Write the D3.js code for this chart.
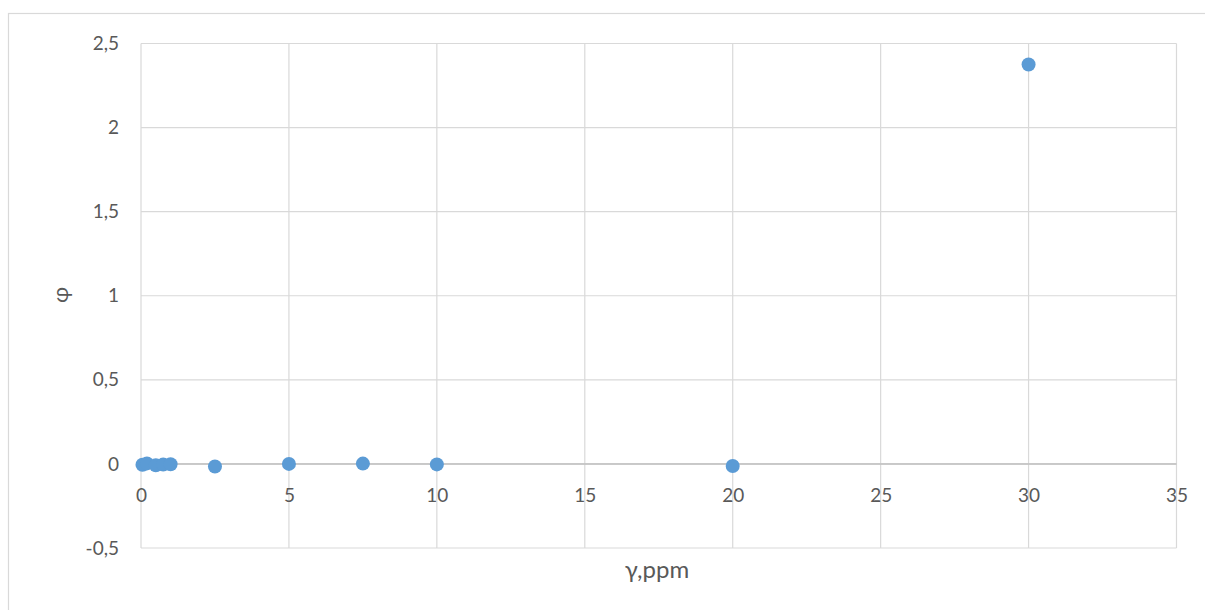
<!DOCTYPE html>
<html><head><meta charset="utf-8">
<script src="https://cdn.jsdelivr.net/npm/d3@7"></script>
<style>
html,body{margin:0;padding:0;background:#fff;}
svg{display:block;}
text{font-family:Lato,"Open Sans",sans-serif;fill:#595959;}
</style></head>
<body>
<svg id="c" width="1205" height="610"></svg>
<script>
const xValues = [0.05, 0.2, 0.5, 0.75, 1, 2.5, 5, 7.5, 10, 20, 30];
const yValues = [-0.005, 0.003, -0.008, -0.004, -0.002, -0.015, 0.0, 0.002, -0.003, -0.012, 2.375];
const xTicks = [0, 5, 10, 15, 20, 25, 30, 35];
const yTicks = [-0.5, 0, 0.5, 1, 1.5, 2, 2.5];
const xTitle = "γ,ppm";
const yTitle = "φ";

const svg = d3.select("#c");
const m = {l:141, r:1176.5, t:43.5, b:548};
const x = d3.scaleLinear().domain([0,35]).range([m.l, m.r]);
const y = d3.scaleLinear().domain([-0.5,2.5]).range([m.b, m.t]);
const fmt = v => String(v).replace(".", ",");
const FONT = "Lato, 'Open Sans', sans-serif";

// outer chart frame
svg.append("rect").attr("x",8.5).attr("y",13.5).attr("width",1205).attr("height",610)
  .attr("fill","none").attr("stroke","#d9d9d9").attr("stroke-width",1.2);

// gridlines
const g = svg.append("g");
g.selectAll("line.h").data(yTicks).join("line")
  .attr("x1",m.l).attr("x2",m.r).attr("y1",d=>y(d)).attr("y2",d=>y(d))
  .attr("stroke","#d9d9d9").attr("stroke-width",1.2);
g.selectAll("line.v").data(xTicks).join("line")
  .attr("y1",m.t).attr("y2",m.b).attr("x1",d=>x(d)).attr("x2",d=>x(d))
  .attr("stroke","#d9d9d9").attr("stroke-width",1.2);
g.append("line").attr("x1",m.l).attr("x2",m.r).attr("y1",y(0)).attr("y2",y(0))
  .attr("stroke","#bfbfbf").attr("stroke-width",1.5);

// axes labels via d3 axes
const yAxis = d3.axisLeft(y).tickValues(yTicks).tickFormat(fmt).tickSize(0).tickPadding(22);
const ya = svg.append("g").attr("transform",`translate(${m.l},0)`).call(yAxis);
ya.select(".domain").remove();
ya.selectAll("text").attr("font-size",19).attr("fill","#595959").style("font-family",FONT);

const xAxis = d3.axisBottom(x).tickValues(xTicks).tickFormat(fmt).tickSize(0).tickPadding(25);
const xa = svg.append("g").attr("transform",`translate(0,${y(0)})`).call(xAxis);
xa.select(".domain").remove();
xa.selectAll("text").attr("font-size",19).attr("fill","#595959").style("font-family",FONT);

// titles
svg.append("text").attr("x",657).attr("y",578).attr("text-anchor","middle")
  .attr("font-size",24).text(xTitle);
svg.append("text").attr("transform","translate(68,295) rotate(-90)").attr("text-anchor","middle")
  .attr("font-size",22).text(yTitle);

// points
const data = xValues.map((v,i)=>({x:v,y:yValues[i]}));
svg.append("g").selectAll("circle").data(data).join("circle")
  .attr("cx",d=>x(d.x)).attr("cy",d=>y(d.y)).attr("r",7)
  .attr("fill","#5b9bd5");
</script>
</body></html>
